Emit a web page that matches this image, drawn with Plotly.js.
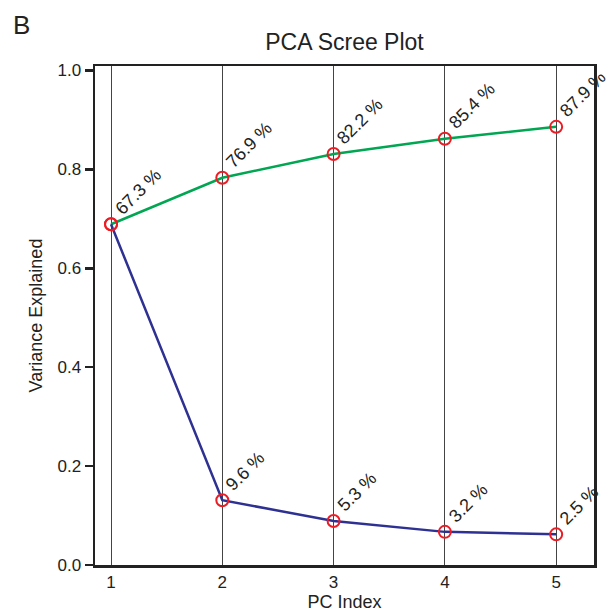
<!DOCTYPE html>
<html>
<head>
<meta charset="utf-8">
<script src="https://cdn.plot.ly/plotly-3.0.1.min.js"></script>
<style>html,body{margin:0;padding:0;background:#fff;}#chart{width:608px;height:612px;}</style>
</head>
<body>
<div id="chart"></div>
<script>
const pcIndex = [1, 2, 3, 4, 5];
const individualVar = [0.689, 0.131, 0.089, 0.067, 0.062];
const cumulativeVar = [0.689, 0.783, 0.831, 0.862, 0.886];
const individualLabels = ["67.3 %", "9.6 %", "5.3 %", "3.2 %", "2.5 %"];
const cumulativeLabels = ["67.3 %", "76.9 %", "82.2 %", "85.4 %", "87.9 %"];
const yTicks = [0, 0.2, 0.4, 0.6, 0.8, 1.0];
const yTickText = ["0.0", "0.2", "0.4", "0.6", "0.8", "1.0"];

const FONT = "Liberation Sans, Arial, sans-serif";
const TXT = "#222";

const traces = [
  {x: pcIndex, y: cumulativeVar, mode: "lines", line: {color: "#00a651", width: 2.5}, hoverinfo: "skip"},
  {x: pcIndex, y: individualVar, mode: "lines", line: {color: "#2e3192", width: 2.5}, hoverinfo: "skip"},
  {x: pcIndex, y: cumulativeVar, mode: "markers", marker: {symbol: "circle-open", color: "#ed1c24", size: 12, line: {width: 2, color: "#ed1c24"}}},
  {x: pcIndex, y: individualVar, mode: "markers", marker: {symbol: "circle-open", color: "#ed1c24", size: 12, line: {width: 2, color: "#ed1c24"}}}
];

const annotations = [];
function addLabels(ys, labels, skipFirst) {
  for (let i = 0; i < pcIndex.length; i++) {
    if (skipFirst && i === 0) continue;
    annotations.push({
      x: pcIndex[i], y: ys[i], xref: "x", yref: "y",
      text: labels[i], showarrow: false, textangle: -45,
      xanchor: "left", yanchor: "bottom", xshift: -3, yshift: 3,
      font: {family: FONT, size: 18, color: TXT}
    });
  }
}
addLabels(cumulativeVar, cumulativeLabels, false);
addLabels(individualVar, individualLabels, true);

annotations.push({
  xref: "paper", yref: "paper", x: -0.168, y: 1.082, xanchor: "left", yanchor: "middle",
  text: "B", showarrow: false, font: {family: FONT, size: 26, color: TXT}
});

const layout = {
  width: 608, height: 612,
  margin: {l: 95, r: 14, t: 66, b: 47},
  paper_bgcolor: "#fff", plot_bgcolor: "#fff",
  showlegend: false,
  font: {family: FONT, size: 17, color: TXT},
  title: {text: "PCA Scree Plot", font: {family: FONT, size: 23, color: TXT}, x: 0.5, xref: "paper", xanchor: "center", y: 0.932, yanchor: "middle"},
  xaxis: {
    range: [0.856, 5.34], tickvals: pcIndex, ticks: "",
    showgrid: true, gridcolor: "#444", gridwidth: 1, zeroline: false,
    showline: true, linecolor: "#222", linewidth: 2.5, mirror: true,
    tickfont: {family: FONT, size: 17, color: TXT},
    title: {text: "PC Index", font: {family: FONT, size: 18, color: TXT}, standoff: 6}
  },
  yaxis: {
    range: [0, 1.009], tickvals: yTicks, ticktext: yTickText,
    ticks: "outside", ticklen: 8, tickwidth: 2.5, tickcolor: "#222",
    showgrid: false, zeroline: false,
    showline: true, linecolor: "#222", linewidth: 2.5, mirror: true,
    tickfont: {family: FONT, size: 17, color: TXT},
    title: {text: "Variance Explained", font: {family: FONT, size: 18, color: TXT}, standoff: 10}
  },
  annotations: annotations
};

Plotly.newPlot("chart", traces, layout, {displayModeBar: false, staticPlot: true});
</script>
</body>
</html>
